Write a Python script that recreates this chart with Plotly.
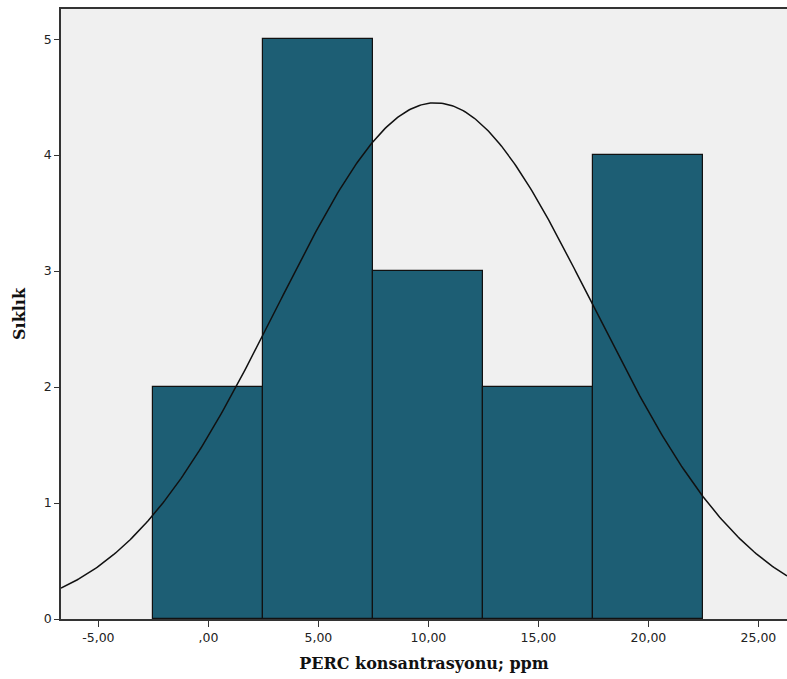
import numpy as np
import plotly.graph_objects as go

bin_centers = [0, 5, 10, 15, 20]
counts = [2, 5, 3, 2, 4]
bin_width = 5
mean_val = 10.32
sd_val = 7.17
n_total = sum(counts)
x_tickvals = [-5, 0, 5, 10, 15, 20, 25]
x_ticktext = ["-5,00", ",00", "5,00", "10,00", "15,00", "20,00", "25,00"]
y_tickvals = [0, 1, 2, 3, 4, 5]

x_range = [-6.7, 26.3]
xs = np.linspace(x_range[0], x_range[1], 400)
ys = n_total * bin_width / (sd_val * np.sqrt(2 * np.pi)) * np.exp(-0.5 * ((xs - mean_val) / sd_val) ** 2)

fig = go.Figure()
fig.add_trace(go.Bar(x=bin_centers, y=counts, width=bin_width,
                     marker=dict(color="#1d5e74", line=dict(color="#111111", width=1.2)),
                     hoverinfo="skip"))
fig.add_trace(go.Scatter(x=xs, y=ys, mode="lines", line=dict(color="#111111", width=1.5),
                         hoverinfo="skip"))

fig.update_layout(
    width=787, height=679,
    margin=dict(l=61, r=0, t=9, b=60),
    paper_bgcolor="white", plot_bgcolor="#f0f0f0",
    showlegend=False, bargap=0,
    xaxis=dict(range=x_range, tickvals=x_tickvals, ticktext=x_ticktext,
               showgrid=False, zeroline=False, showline=True, linecolor="#333333", linewidth=1.5,
               mirror=True, ticks="outside", ticklen=6, tickcolor="#333333",
               tickfont=dict(family="DejaVu Sans", size=12.5, color="#222222"),
               title=dict(text="<b>PERC konsantrasyonu; ppm</b>", standoff=14,
                          font=dict(family="DejaVu Serif", size=16, color="#111111"))),
    yaxis=dict(range=[0, 5.26], tickvals=y_tickvals, showgrid=False, zeroline=False,
               showline=True, linecolor="#333333", linewidth=1.5,
               ticks="outside", ticklen=5, tickcolor="#333333",
               tickfont=dict(family="DejaVu Sans", size=12.5, color="#222222"),
               title=dict(text="<b>Sıklık</b>", standoff=14,
                          font=dict(family="DejaVu Serif", size=16, color="#111111"))),
)
fig.write_html("out.html")
